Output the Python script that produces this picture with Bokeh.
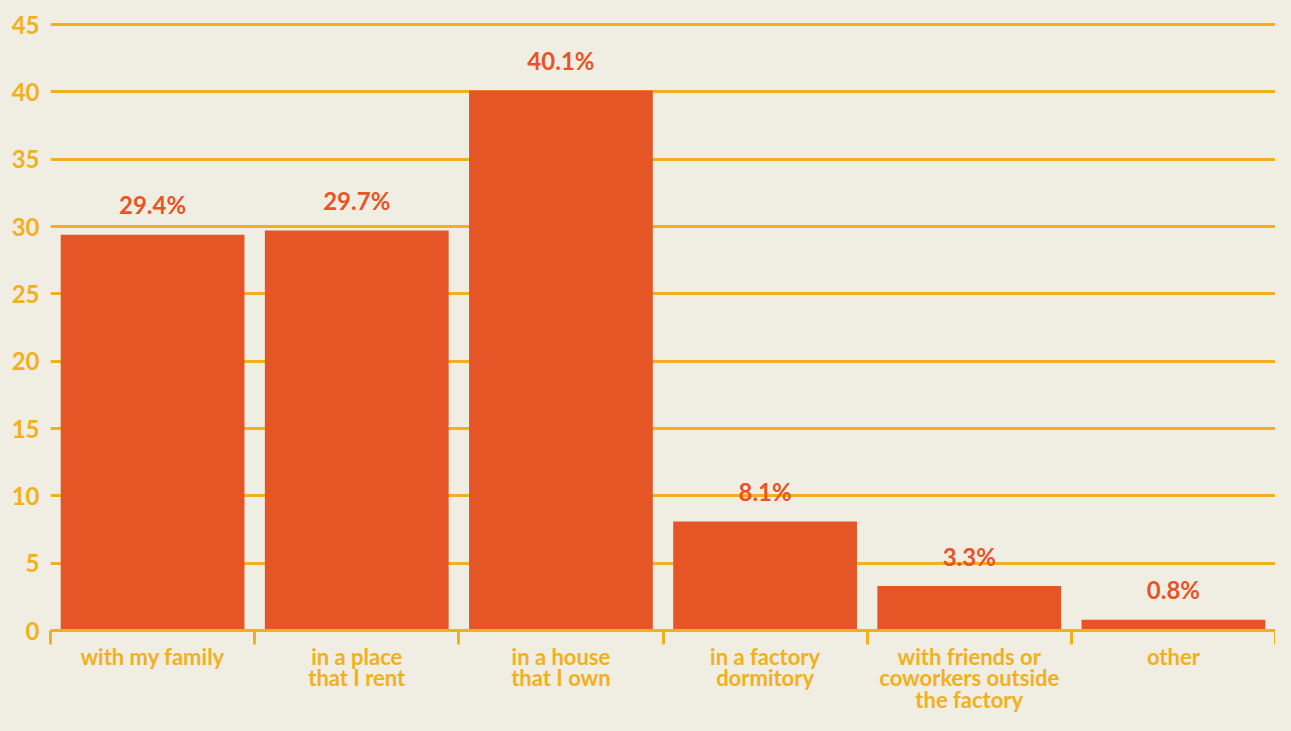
from bokeh.plotting import figure
from bokeh.models import Range1d, FixedTicker
from bokeh.core.properties import value
from bokeh.embed import file_html
from bokeh.resources import INLINE

categories = [
    "with my family",
    "in a place\nthat I rent",
    "in a house\nthat I own",
    "in a factory\ndormitory",
    "with friends or\ncoworkers outside\nthe factory",
    "other",
]
shares = [29.4, 29.7, 40.1, 8.1, 3.3, 0.8]
y_ticks = [0, 5, 10, 15, 20, 25, 30, 35, 40, 45]

BG = "#F0EDE2"
YEL = "#F2B01E"
BAR = "#E65526"

x_pos = [i + 0.5 for i in range(len(categories))]
bounds = list(range(len(categories) + 1))

p = figure(
    width=1275, height=715,
    output_backend="svg", toolbar_location=None,
    x_range=Range1d(0, len(categories)),
    y_range=Range1d(0, 45.6),
    min_border_left=50, min_border_right=0,
    min_border_top=16, min_border_bottom=78,
)
p.background_fill_color = BG
p.border_fill_color = BG
p.outline_line_color = None

# grid
p.xgrid.visible = False
p.ygrid.ticker = FixedTicker(ticks=y_ticks)
p.ygrid.grid_line_color = YEL
p.ygrid.grid_line_width = 3

# y axis
p.yaxis.ticker = FixedTicker(ticks=y_ticks)
p.yaxis.axis_line_color = None
p.yaxis.major_tick_line_color = None
p.yaxis.minor_tick_line_color = None
p.yaxis.major_label_standoff = 5
p.yaxis.major_label_text_font = "Lato"
p.yaxis.major_label_text_font_style = "bold"
p.yaxis.major_label_text_font_size = "24px"
p.yaxis.major_label_text_color = YEL

# x axis: line, category boundary ticks, category labels
p.xaxis.ticker = FixedTicker(ticks=x_pos, minor_ticks=bounds)
p.xaxis.major_label_overrides = {xp: c for xp, c in zip(x_pos, categories)}
p.xaxis.axis_line_color = YEL
p.xaxis.axis_line_width = 3
p.xaxis.major_tick_line_color = None
p.xaxis.major_tick_out = 0
p.xaxis.major_tick_in = 0
p.xaxis.minor_tick_line_color = YEL
p.xaxis.minor_tick_line_width = 3
p.xaxis.minor_tick_out = 14
p.xaxis.minor_tick_in = 0
p.xaxis.major_label_standoff = -2
p.xaxis.major_label_text_font = "Lato"
p.xaxis.major_label_text_font_style = "bold"
p.xaxis.major_label_text_font_size = "22px"
p.xaxis.major_label_text_line_height = 0.8
p.xaxis.major_label_text_color = YEL

# bars
p.vbar(x=x_pos, top=shares, width=0.9, fill_color=BAR, line_color=None)

# value labels
p.text(
    x=x_pos, y=shares, text=[f"{s}%" for s in shares],
    text_align="center", text_baseline="alphabetic", y_offset=-30,
    text_font=value("Lato"), text_font_style="bold", text_font_size="24px",
    text_color=BAR,
)

html = file_html(p, INLINE).replace("<body>", '<body style="background:%s">' % BG)
open("out.html", "w").write(html)
